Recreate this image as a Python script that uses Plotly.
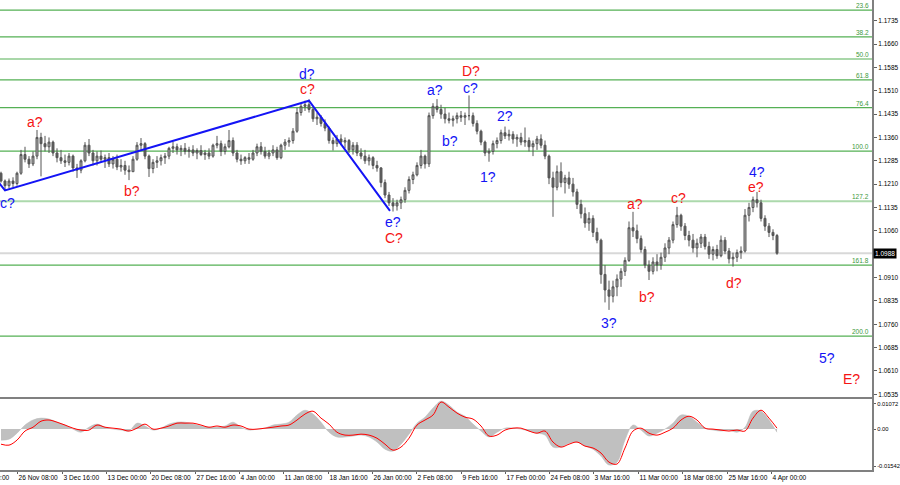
import plotly.graph_objects as go

# ---------------- price bars (one bar per index) ----------------
first_open = 1.1245
bar_high = [
    1.1250, 1.1225, 1.1228, 1.1232, 1.1250, 1.1320, 1.1330, 1.1300, 1.1315, 1.1384, 1.1375, 1.1365, 1.1360,
    1.1350, 1.1325, 1.1320, 1.1305, 1.1310, 1.1305, 1.1275, 1.1290, 1.1345, 1.1355, 1.1320, 1.1315, 1.1318,
    1.1305, 1.1310, 1.1300, 1.1305, 1.1290, 1.1285, 1.1270,
    1.1300, 1.1345, 1.1358, 1.1345, 1.1305, 1.1290, 1.1300, 1.1305, 1.1310, 1.1330, 1.1346, 1.1340, 1.1335,
    1.1342, 1.1330, 1.1335, 1.1325, 1.1335, 1.1320, 1.1325, 1.1340, 1.1365, 1.1350, 1.1340, 1.1384, 1.1360,
    1.1320, 1.1305, 1.1300, 1.1310, 1.1320, 1.1340, 1.1345, 1.1330, 1.1320, 1.1335, 1.1330, 1.1340, 1.1355,
    1.1360, 1.1390, 1.1455,
    1.1470, 1.1478, 1.1482, 1.1455, 1.1440, 1.1432, 1.1418, 1.1395, 1.1360, 1.1368, 1.1370, 1.1360, 1.1355,
    1.1345, 1.1345, 1.1325, 1.1320, 1.1305, 1.1300, 1.1285, 1.1265, 1.1225, 1.1185, 1.1165,
    1.1160, 1.1170, 1.1200, 1.1235, 1.1250, 1.1280, 1.1320, 1.1305, 1.1440, 1.1470, 1.1483, 1.1465, 1.1455,
    1.1440, 1.1430, 1.1440, 1.1445, 1.1440, 1.1495,
    1.1440, 1.1415, 1.1385, 1.1350, 1.1325, 1.1350, 1.1360, 1.1385, 1.1395, 1.1385, 1.1380, 1.1370, 1.1375,
    1.1392, 1.1360, 1.1350, 1.1365, 1.1370, 1.1350, 1.1305, 1.1250,
    1.1270, 1.1280, 1.1240, 1.1250, 1.1230, 1.1195, 1.1160, 1.1135, 1.1120, 1.1110, 1.1070, 1.1035, 1.0950, 1.0900,
    1.0900, 1.0920, 1.0940, 1.0975, 1.1090, 1.1121, 1.1080, 1.1045, 1.1010, 1.0965, 1.0975, 1.0985, 1.0990,
    1.1020, 1.1040, 1.1090, 1.1137,
    1.1115, 1.1085, 1.1060, 1.1050, 1.1035, 1.1050, 1.1050, 1.1025, 1.1010, 1.1015, 1.1045, 1.1040, 1.1005,
    1.0990, 1.1000, 1.1010, 1.1130, 1.1150, 1.1170, 1.1185, 1.1160, 1.1110, 1.1085, 1.1065, 1.1050,
]
bar_low = [
    1.1215, 1.1190, 1.1196, 1.1200, 1.1205, 1.1240, 1.1280, 1.1262, 1.1268, 1.1290, 1.1235, 1.1315, 1.1310,
    1.1300, 1.1280, 1.1275, 1.1265, 1.1270, 1.1250, 1.1230, 1.1245, 1.1280, 1.1300, 1.1270, 1.1270, 1.1280,
    1.1262, 1.1265, 1.1260, 1.1255, 1.1250, 1.1240, 1.1223,
    1.1250, 1.1285, 1.1320, 1.1290, 1.1233, 1.1245, 1.1262, 1.1270, 1.1275, 1.1290, 1.1310, 1.1305, 1.1300,
    1.1305, 1.1295, 1.1300, 1.1290, 1.1300, 1.1288, 1.1290, 1.1295, 1.1325, 1.1300, 1.1305, 1.1325, 1.1300,
    1.1280, 1.1272, 1.1275, 1.1275, 1.1285, 1.1300, 1.1305, 1.1292, 1.1290, 1.1300, 1.1288, 1.1290, 1.1320,
    1.1330, 1.1340, 1.1375,
    1.1430, 1.1445, 1.1440, 1.1410, 1.1400, 1.1395, 1.1380, 1.1340, 1.1318, 1.1330, 1.1335, 1.1325, 1.1310,
    1.1305, 1.1300, 1.1290, 1.1275, 1.1270, 1.1258, 1.1250, 1.1200, 1.1165, 1.1140, 1.1122,
    1.1125, 1.1130, 1.1150, 1.1180, 1.1210, 1.1235, 1.1260, 1.1260, 1.1265, 1.1420, 1.1440, 1.1420, 1.1405,
    1.1405, 1.1395, 1.1405, 1.1410, 1.1400, 1.1415,
    1.1395, 1.1370, 1.1335, 1.1300, 1.1282, 1.1305, 1.1325, 1.1340, 1.1355, 1.1350, 1.1340, 1.1330, 1.1335,
    1.1330, 1.1315, 1.1300, 1.1320, 1.1325, 1.1290, 1.1210, 1.1105,
    1.1190, 1.1200, 1.1180, 1.1195, 1.1170, 1.1130, 1.1100, 1.1070, 1.1060, 1.1040, 1.1020, 1.0890, 1.0830, 1.0806,
    1.0830, 1.0850, 1.0880, 1.0915, 1.0960, 1.1040, 1.1020, 1.0990, 1.0940, 1.0902, 1.0920, 1.0930, 1.0935,
    1.0960, 1.0985, 1.1020, 1.1070,
    1.1060, 1.1030, 1.1010, 1.0990, 1.0975, 1.1005, 1.1000, 1.0970, 1.0965, 1.0970, 1.0975, 1.0985, 1.0955,
    1.0945, 1.0960, 1.0970, 1.0990, 1.1090, 1.1120, 1.1135, 1.1090, 1.1060, 1.1040, 1.1030, 1.0983,
]
bar_close = [
    1.1220, 1.1205, 1.1220, 1.1212, 1.1245, 1.1305, 1.1290, 1.1275, 1.1300, 1.1360, 1.1340, 1.1330, 1.1345,
    1.1310, 1.1295, 1.1285, 1.1280, 1.1300, 1.1262, 1.1255, 1.1285, 1.1335, 1.1310, 1.1285, 1.1300, 1.1290,
    1.1295, 1.1275, 1.1290, 1.1265, 1.1270, 1.1255, 1.1250,
    1.1290, 1.1335, 1.1340, 1.1300, 1.1260, 1.1280, 1.1285, 1.1295, 1.1300, 1.1325, 1.1330, 1.1320, 1.1325,
    1.1315, 1.1320, 1.1310, 1.1318, 1.1305, 1.1310, 1.1300, 1.1335, 1.1340, 1.1315, 1.1330, 1.1350, 1.1310,
    1.1290, 1.1285, 1.1295, 1.1290, 1.1310, 1.1330, 1.1315, 1.1300, 1.1310, 1.1320, 1.1295, 1.1335, 1.1345,
    1.1350, 1.1380, 1.1440,
    1.1460, 1.1465, 1.1450, 1.1420, 1.1425, 1.1405, 1.1390, 1.1350, 1.1340, 1.1355, 1.1345, 1.1350, 1.1320,
    1.1335, 1.1310, 1.1300, 1.1285, 1.1295, 1.1270, 1.1262, 1.1215, 1.1175, 1.1150, 1.1140,
    1.1150, 1.1160, 1.1190, 1.1225, 1.1240, 1.1270, 1.1300, 1.1275, 1.1430, 1.1460, 1.1450, 1.1435, 1.1420,
    1.1415, 1.1420, 1.1430, 1.1425, 1.1430, 1.1430,
    1.1405, 1.1380, 1.1345, 1.1310, 1.1315, 1.1340, 1.1350, 1.1375, 1.1365, 1.1370, 1.1355, 1.1360, 1.1345,
    1.1350, 1.1330, 1.1340, 1.1355, 1.1335, 1.1300, 1.1230, 1.1200,
    1.1250, 1.1215, 1.1230, 1.1210, 1.1185, 1.1145, 1.1115, 1.1085, 1.1100, 1.1055, 1.1030, 1.0920, 1.0870, 1.0850,
    1.0880, 1.0905, 1.0930, 1.0965, 1.1070, 1.1060, 1.1035, 1.1000, 1.0950, 1.0930, 1.0960, 1.0950, 1.0975,
    1.1005, 1.1030, 1.1080, 1.1110,
    1.1075, 1.1045, 1.1030, 1.1005, 1.1020, 1.1040, 1.1010, 1.0985, 1.1000, 1.0980, 1.1030, 1.0995, 1.0970,
    1.0975, 1.0990, 1.0995, 1.1110, 1.1135, 1.1160, 1.1150, 1.1100, 1.1075, 1.1055, 1.1045, 1.0988,
]
bar_open = [first_open] + bar_close[:-1]
bar_idx = list(range(len(bar_close)))
last_price = 1.0988

# ---------------- MACD (sampled every second bar) ----------------
macd_idx = list(range(0, len(bar_close), 2))
macd_main = [
    -0.0046, -0.0042, -0.0017, 0.0017, 0.0038, 0.0046, 0.0042, 0.0029, 0.0017, 0.0,
    -0.0013, 0.0008, 0.0021, 0.0008, 0.0, -0.0004, -0.0008, 0.0025, 0.0013, -0.0004,
    0.0004, 0.0021, 0.0029, 0.0029, 0.0021, 0.0013, 0.0008, 0.0008, 0.0013, 0.0029,
    0.0008, -0.0004, 0.0, 0.0004, 0.0017, 0.0021, 0.0029, 0.0059, 0.0079, 0.0063,
    0.0029, -0.0013, -0.0033, -0.0033, -0.0029, -0.0025, -0.0033, -0.0054, -0.0084, -0.0092,
    -0.0063, -0.0021, 0.0025, 0.0050, 0.0088, 0.0117, 0.0100, 0.0071, 0.0054, 0.0021,
    -0.0008, -0.0033, -0.0013, 0.0004, 0.0004, 0.0, -0.0008, -0.0017, -0.0025, -0.0075,
    -0.0075, -0.0059, -0.0054, -0.0071, -0.0084, -0.0113, -0.0150, -0.0138, -0.0046, 0.0017,
    -0.0004, -0.0029, -0.0017, 0.0, 0.0025, 0.0059, 0.0054, 0.0029, 0.0004, -0.0004,
    -0.0008, -0.0004, -0.0013, 0.0008, 0.0075, 0.0075, 0.0038, -0.0013,
]
macd_signal = [
    -0.0063, -0.0067, -0.0046, -0.0008, 0.0008, 0.0033, 0.0038, 0.0029, 0.0017, 0.0004,
    -0.0004, -0.0004, 0.0017, 0.0008, 0.0004, 0.0, -0.0008, 0.0004, 0.0021, 0.0,
    0.0004, 0.0013, 0.0025, 0.0025, 0.0025, 0.0017, 0.0008, 0.0013, 0.0008, 0.0017,
    0.0013, 0.0, 0.0, 0.0004, 0.0008, 0.0013, 0.0017, 0.0038, 0.0063, 0.0075,
    0.0046, 0.0021, -0.0013, -0.0025, -0.0025, -0.0021, -0.0025, -0.0038, -0.0063, -0.0088,
    -0.0075, -0.0038, 0.0017, 0.0038, 0.0059, 0.0113, 0.0092, 0.0067, 0.0050, 0.0042,
    0.0013, -0.0029, -0.0025, -0.0004, 0.0004, 0.0004, -0.0008, -0.0017, -0.0008, -0.0054,
    -0.0075, -0.0063, -0.0054, -0.0071, -0.0079, -0.0100, -0.0138, -0.0146, -0.0079, -0.0008,
    0.0004, -0.0017, -0.0025, -0.0013, 0.0004, 0.0038, 0.0054, 0.0038, 0.0004, 0.0,
    -0.0004, -0.0008, -0.0004, -0.0008, 0.0046, 0.0079, 0.0046, 0.0004,
]
macd_tick_vals = [0.01072, 0.0, -0.01542]
macd_tick_text = ["0.01072", "0.00", "-0.01542"]

# ---------------- Fibonacci levels ----------------
fib_names = ["23.6", "38.2", "50.0", "61.8", "76.4", "100.0", "127.2", "161.8", "200.0"]
fib_prices = [1.1769, 1.1683, 1.1612, 1.1545, 1.1456, 1.1316, 1.1155, 1.0950, 1.0722]

# ---------------- axis labels ----------------
price_ticks = [1.1735, 1.1660, 1.1585, 1.1510, 1.1435, 1.1360, 1.1285, 1.1210, 1.1135, 1.1060,
               1.0910, 1.0835, 1.0760, 1.0685, 1.0610, 1.0535]
date_labels = ["26 Nov 08:00", "3 Dec 16:00", "13 Dec 00:00", "20 Dec 08:00", "27 Dec 16:00",
               "4 Jan 00:00", "11 Jan 08:00", "18 Jan 16:00", "26 Jan 00:00", "2 Feb 08:00",
               "9 Feb 16:00", "17 Feb 00:00", "24 Feb 08:00", "3 Mar 16:00", "11 Mar 00:00",
               "18 Mar 08:00", "25 Mar 16:00", "4 Apr 00:00"]
date_tick_idx = [4.0, 15.25, 26.25, 37.25, 48.5, 59.5, 70.5, 81.75, 92.75, 103.75,
                 115.0, 126.0, 137.0, 148.0, 159.25, 170.25, 181.5, 192.5]
first_partial_label = "19 Nov 00:00"

# ---------------- wave markup ----------------
wave_line_idx = [-5.0, 1.0, 77.0, 97.25]
wave_line_price = [1.1285, 1.1190, 1.1478, 1.1124]

wave_text = ["c?", "a?", "b?", "d?", "c?", "e?", "C?", "a?", "D?", "c?", "b?", "1?", "2?",
             "3?", "a?", "b?", "c?", "d?", "4?", "e?", "5?", "E?"]
wave_idx = [1.5, 8.5, 32.75, 76.5, 76.5, 98.0, 98.25, 108.5, 117.5, 117.25, 112.25, 121.75, 126.0,
            152.0, 158.5, 161.5, 169.25, 183.25, 189.0, 188.75, 206.5, 212.5]
wave_price = [1.1150, 1.1410, 1.1188, 1.1564, 1.1516, 1.1089, 1.1037, 1.1512, 1.1573, 1.1519,
              1.1349, 1.1233, 1.1429, 1.0765, 1.1146, 1.0848, 1.1166, 1.0893, 1.1249, 1.1201,
              1.0652, 1.0585]
wave_color = ["blue", "red", "red", "blue", "red", "blue", "red", "blue", "red", "blue", "blue", "blue",
              "blue", "blue", "red", "red", "red", "red", "blue", "red", "blue", "red"]

BLUE = "#1414F5"
RED = "#F51414"
FONT = "Liberation Sans"
AXIS_GRAY = "#808080"

fig = go.Figure()

fig.add_trace(go.Candlestick(
    x=bar_idx, open=bar_open, high=bar_high, low=bar_low, close=bar_close,
    increasing=dict(line=dict(color="#555555", width=1), fillcolor="#b0b0b0"),
    decreasing=dict(line=dict(color="#555555", width=1), fillcolor="#606060"),
    whiskerwidth=0, xaxis="x", yaxis="y", hoverinfo="skip", showlegend=False))

fig.add_trace(go.Scatter(
    x=wave_line_idx, y=wave_line_price, mode="lines",
    line=dict(color=BLUE, width=2), xaxis="x", yaxis="y", hoverinfo="skip", showlegend=False))

fig.add_trace(go.Scatter(
    x=macd_idx, y=macd_main, mode="lines", fill="tozeroy", fillcolor="#c0c0c0",
    line=dict(color="#b8b8b8", width=0.5, shape="spline"),
    xaxis="x2", yaxis="y2", hoverinfo="skip", showlegend=False))
fig.add_trace(go.Scatter(
    x=macd_idx, y=macd_signal, mode="lines",
    line=dict(color="#FF0000", width=1, shape="spline"),
    xaxis="x2", yaxis="y2", hoverinfo="skip", showlegend=False))

shapes = []
annotations = []
for name, p in zip(fib_names, fib_prices):
    light = name == "127.2"
    shapes.append(dict(type="line", xref="paper", x0=0, x1=1, yref="y", y0=p, y1=p,
                       line=dict(color="#acd9ac" if light else "#55b055", width=2 if light else 1.2),
                       layer="below"))
    annotations.append(dict(xref="paper", x=1, xanchor="right", xshift=-1, yref="y", y=p,
                            yanchor="bottom", yshift=-1, text=name, showarrow=False,
                            font=dict(family=FONT, size=6.5, color="#3c983c")))

shapes.append(dict(type="line", xref="paper", x0=0, x1=1, yref="y", y0=last_price, y1=last_price,
                   line=dict(color="#d8d8d8", width=2), layer="below"))

annotations.append(dict(xref="paper", x=1, xanchor="left", xshift=1, yref="y", y=last_price,
                        text=f"{last_price:.4f}", showarrow=False, bgcolor="#000000", borderpad=1,
                        font=dict(family=FONT, size=6.5, color="#ffffff")))

for t, xi, yp, c in zip(wave_text, wave_idx, wave_price, wave_color):
    annotations.append(dict(xref="x", yref="y", x=xi, y=yp, text=t, showarrow=False,
                            font=dict(family=FONT, size=14, color=BLUE if c == "blue" else RED)))

annotations.append(dict(xref="paper", yref="paper", x=0, y=0, xanchor="right", yanchor="top",
                        xshift=12, yshift=-2, text=first_partial_label, showarrow=False,
                        font=dict(family=FONT, size=6.6, color="#000000")))

x_range = [-0.25, 217.75]

fig.update_layout(
    width=900, height=485,
    margin=dict(l=0, r=28, t=0, b=15, autoexpand=False),
    paper_bgcolor="#ffffff", plot_bgcolor="#ffffff",
    font=dict(family=FONT, size=6.6, color="#000000"),
    showlegend=False, hovermode=False,
    shapes=shapes, annotations=annotations,
    xaxis=dict(domain=[0, 1], anchor="y", range=x_range, showticklabels=False, ticks="",
               showgrid=False, zeroline=False, showline=True, linecolor=AXIS_GRAY, linewidth=2,
               rangeslider=dict(visible=False), fixedrange=True),
    yaxis=dict(domain=[0.1553, 1], anchor="x", range=[1.05262, 1.18015], side="right",
               tickvals=price_ticks, tickformat=".4f", ticks="outside", ticklen=3,
               tickcolor="#606060", showgrid=False, zeroline=False, showline=True,
               linecolor=AXIS_GRAY, linewidth=2, tickfont=dict(size=6.5), automargin=False),
    xaxis2=dict(domain=[0, 1], anchor="y2", matches="x", range=x_range,
                tickvals=date_tick_idx, ticktext=date_labels, ticks="outside", ticklen=2,
                tickcolor="#606060", ticklabelposition="outside right", tickangle=0,
                showgrid=False, zeroline=False, showline=True, mirror=True,
                linecolor=AXIS_GRAY, linewidth=2, tickfont=dict(size=6.6), automargin=False),
    yaxis2=dict(domain=[0, 0.1511], anchor="x2", range=[-0.01709, 0.01260], side="right",
                tickvals=macd_tick_vals, ticktext=macd_tick_text, ticks="outside", ticklen=2,
                tickcolor="#606060", showgrid=False, zeroline=False, showline=True,
                linecolor=AXIS_GRAY, linewidth=2, tickfont=dict(size=5.8), automargin=False),
)

fig.write_html(
    "out.html",
    config={"displayModeBar": False},
    post_script="document.body.style.margin='0';document.body.style.padding='0';",
)
